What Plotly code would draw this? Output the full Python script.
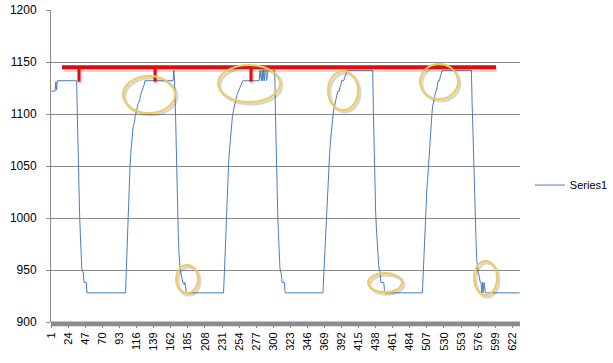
import numpy as np
import plotly.graph_objects as go

# ---- series data: run-length encoded (value, repeat count) ----
seg_values = [
    1122, 1131, 1123, 1132,
    1100, 1060, 1030, 1005, 985, 965, 952, 948, 938, 928,
    950, 975, 1000, 1020, 1035, 1050, 1062, 1072, 1080, 1087, 1090, 1092, 1098,
    1102, 1106, 1108, 1110, 1112, 1112, 1118, 1120, 1122, 1122, 1126, 1128,
    1132, 1142, 1132,
    1110, 1070, 1040, 1010, 985, 965, 950, 948, 946, 938, 938, 938, 936, 938, 930, 928,
    928,
    945, 965, 990, 1010, 1030, 1040, 1055, 1065, 1075, 1085, 1092, 1098, 1102,
    1106, 1110, 1112, 1115, 1118, 1120, 1122, 1122, 1125, 1126, 1130,
    1132,
    1142, 1132, 1132, 1142, 1132, 1142, 1132, 1142, 1142, 1132, 1142,
    1142,
    1100, 1060, 1030, 1005, 985, 965, 952, 948, 946, 938, 938, 938, 938,
    928,
    945, 960, 980, 1000, 1015, 1028, 1037, 1050, 1062, 1073, 1082, 1090, 1098,
    1102, 1106, 1110, 1114, 1117, 1120, 1122, 1122, 1122, 1126, 1127, 1132, 1132,
    1132, 1132, 1135, 1137, 1140,
    1142,
    1100, 1060, 1030, 1005, 990, 975, 962, 955, 950, 948, 938, 938, 938, 938, 938,
    928,
    945, 965, 985, 1000, 1015, 1028, 1037, 1050, 1062, 1075, 1088, 1098, 1102,
    1108, 1112, 1118, 1122, 1122, 1122, 1128, 1132, 1132, 1132, 1136, 1138,
    1142,
    1110, 1080, 1055, 1037, 1010, 985, 962, 950, 948, 946, 938, 938, 938, 928, 938, 928, 938,
    928,
]
seg_counts = [
    6, 1, 1, 27,
    1, 1, 1, 1, 1, 1, 1, 2, 4, 53,
    1, 1, 1, 1, 1, 1, 1, 1, 1, 1, 1, 1, 1,
    1, 1, 1, 1, 1, 1, 1, 1, 1, 1, 1, 1,
    39, 1, 1,
    1, 1, 1, 1, 1, 1, 1, 1, 1, 1, 1, 1, 1, 1, 1, 1,
    50,
    1, 1, 1, 1, 1, 1, 1, 1, 1, 1, 1, 1, 1,
    1, 1, 1, 1, 1, 1, 1, 1, 1, 1, 1,
    24,
    1, 1, 1, 1, 1, 1, 1, 1, 1, 1, 1,
    10,
    1, 1, 1, 1, 1, 1, 1, 1, 1, 1, 1, 1, 1,
    52,
    1, 1, 1, 1, 1, 1, 1, 1, 1, 1, 1, 1, 1,
    1, 1, 1, 1, 1, 1, 1, 1, 1, 1, 1, 1, 1,
    1, 1, 1, 1, 1,
    36,
    1, 1, 1, 1, 1, 1, 1, 1, 1, 1, 1, 1, 1, 1, 1,
    52,
    1, 1, 1, 1, 1, 1, 1, 1, 1, 1, 1, 1, 1,
    1, 1, 1, 1, 1, 1, 1, 1, 1, 1, 1, 1,
    41,
    1, 1, 1, 1, 1, 1, 1, 1, 1, 1, 1, 1, 1, 1, 1, 1, 1,
    48,
]
series_name = "Series1"

x_tick_labels = [1, 24, 47, 70, 93, 116, 139, 162, 185, 208, 231, 254, 277, 300,
                 323, 346, 369, 392, 415, 438, 461, 484, 507, 530, 553, 576, 599, 622]
y_ticks = [900, 950, 1000, 1050, 1100, 1150, 1200]

# ---- hand-drawn overlay (red limit line, red markers, yellow ellipses) ----
limit_value = 1145
limit_span = [15.3, 600.2]
marker_x = [38.2, 140.7, 270.0]
marker_bottom = 1131
ellipse_x0 = [97.5, 225.6, 373.8, 497.8, 169.0, 427.7, 570.6]
ellipse_x1 = [167.6, 309.1, 414.3, 549.0, 198.6, 473.5, 601.6]
ellipse_y0 = [1101.0, 1111.5, 1103.8, 1114.4, 927.9, 928.8, 926.0]
ellipse_y1 = [1136.5, 1147.1, 1141.3, 1148.1, 954.8, 947.1, 958.7]

values = np.repeat(seg_values, seg_counts)
xs = np.arange(1, len(values) + 1)
n = len(values)

fig = go.Figure()
fig.add_trace(go.Scatter(x=xs, y=values, mode="lines", name=series_name,
                         line=dict(color="#4A7EBB", width=1)))

shapes = []
grey = "#8a8a8a"
# thick category tick band along the bottom axis
shapes.append(dict(type="rect", xref="paper", yref="paper", x0=0, x1=1,
                   y0=-0.014, y1=0.002, fillcolor="#8c8c8c", line=dict(width=0),
                   layer="above"))
# shadow for red line
shapes.append(dict(type="line", xref="x", yref="y", x0=limit_span[0] + 1.5, x1=limit_span[1] + 1.5,
                   y0=limit_value - 2.2, y1=limit_value - 2.2,
                   line=dict(color="rgba(0,0,0,0.13)", width=5)))
for mx in marker_x:
    shapes.append(dict(type="line", xref="x", yref="y", x0=mx + 1.5, x1=mx + 1.5,
                       y0=limit_value - 2, y1=marker_bottom - 2,
                       line=dict(color="rgba(0,0,0,0.13)", width=4)))
shapes.append(dict(type="line", xref="x", yref="y", x0=limit_span[0], x1=limit_span[1],
                   y0=limit_value, y1=limit_value, line=dict(color="#E50B0B", width=4)))
for mx in marker_x:
    shapes.append(dict(type="line", xref="x", yref="y", x0=mx, x1=mx,
                       y0=limit_value, y1=marker_bottom, line=dict(color="#E50B0B", width=3)))
# ellipses with soft shadow
for a, b, c, d in zip(ellipse_x0, ellipse_x1, ellipse_y0, ellipse_y1):
    shapes.append(dict(type="circle", xref="x", yref="y", x0=a + 2.5, x1=b + 2.5,
                       y0=c - 2.0, y1=d - 2.0,
                       line=dict(color="rgba(90,90,90,0.25)", width=3)))
    shapes.append(dict(type="circle", xref="x", yref="y", x0=a, x1=b, y0=c, y1=d,
                       line=dict(color="#EFCB5A", width=2)))

fig.update_layout(
    width=613, height=363,
    margin=dict(l=51, r=93, t=10, b=41, autoexpand=False),
    plot_bgcolor="white", paper_bgcolor="white",
    font=dict(family="Liberation Sans", size=11, color="black"),
    showlegend=True,
    legend=dict(x=1.021, y=0.439, xanchor="left", yanchor="middle",
                font=dict(size=11), bgcolor="rgba(0,0,0,0)"),
    shapes=shapes,
)
fig.update_xaxes(range=[0.5, n + 0.5], tickmode="array", tickvals=x_tick_labels,
                 ticktext=[str(t) for t in x_tick_labels], tickangle=-90,
                 showgrid=False, zeroline=False, showline=False,
                 ticks="outside", ticklen=5, tickcolor="#8c8c8c",
                 tickfont=dict(size=11), automargin=False)
fig.update_yaxes(range=[900, 1200], tickmode="array", tickvals=y_ticks,
                 showgrid=True, gridcolor=grey, gridwidth=1, zeroline=False,
                 showline=True, linecolor=grey, linewidth=1,
                 ticks="outside", ticklen=4, tickcolor=grey,
                 ticklabelstandoff=7,
                 tickfont=dict(size=12), automargin=False)

# remove the browser's default body margin so the figure sits at the window origin
fig.write_html("out.html", config={"displayModeBar": False},
               post_script="document.body.style.margin='0';document.body.style.overflow='hidden';")
